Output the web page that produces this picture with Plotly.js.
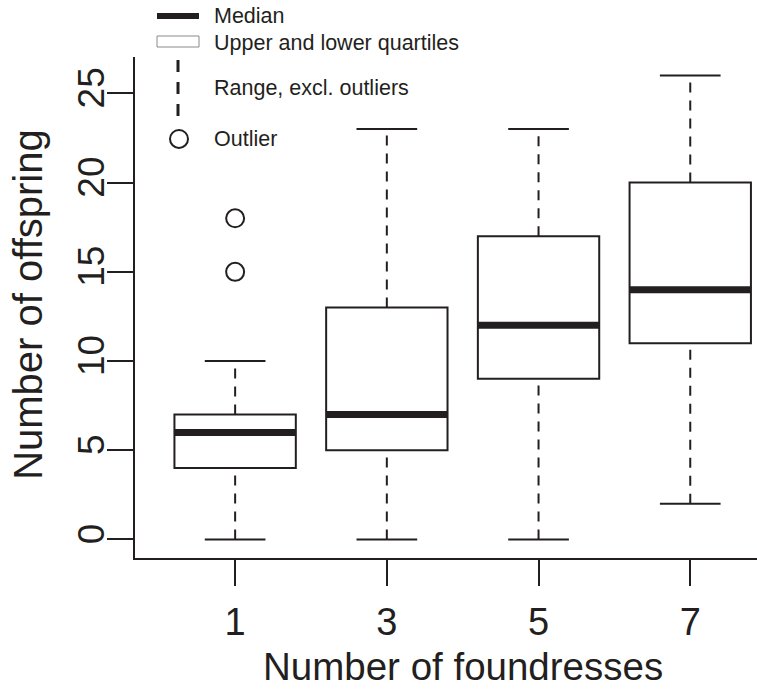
<!DOCTYPE html>
<html>
<head>
<meta charset="utf-8">
<script src="https://cdn.plot.ly/plotly-3.0.1.min.js"></script>
<style>html,body{margin:0;padding:0;background:#fff;overflow:hidden;}</style>
</head>
<body>
<div id="chart" style="width:757px;height:694px;"></div>
<script>
// ---- data ----
const foundresses = [1, 3, 5, 7];
const tickLabels = ['1', '3', '5', '7'];
const lowerWhisker = [0, 0, 0, 2];
const q1 = [4, 5, 9, 11];
const medians = [6, 7, 12, 14];
const q3 = [7, 13, 17, 20];
const upperWhisker = [10, 23, 23, 26];
const outlierX = [1, 1];
const outlierY = [15, 18];
const yTicks = [0, 5, 10, 15, 20, 25];
const legendLabels = ['Median', 'Upper and lower quartiles', 'Range, excl. outliers', 'Outlier'];

// ---- styling / geometry ----
const INK = '#231f20';
const FONT = 'Liberation Sans, Arial, Helvetica, sans-serif';
const W = 757, H = 694, L = 135, T = 57, B = 558.3;
const BOXW = 1.6, CAPW = 0.8;
const px = x => (x - L) / (W - L);
const py = y => (B - y) / (B - T);

const wx = [], wy = [], cx = [], cy = [], mx = [], my = [];
foundresses.forEach((f, i) => {
  wx.push(f, f, null, f, f, null);
  wy.push(q3[i], upperWhisker[i], null, lowerWhisker[i], q1[i], null);
  cx.push(f - CAPW / 2, f + CAPW / 2, null, f - CAPW / 2, f + CAPW / 2, null);
  cy.push(upperWhisker[i], upperWhisker[i], null, lowerWhisker[i], lowerWhisker[i], null);
  mx.push(f - BOXW / 2, f + BOXW / 2, null);
  my.push(medians[i], medians[i], null);
});

const traces = [
  {type: 'scatter', mode: 'lines', x: wx, y: wy, hoverinfo: 'skip',
   line: {color: INK, width: 2, dash: '10px,8px'}, showlegend: false},
  {type: 'scatter', mode: 'lines', x: cx, y: cy, hoverinfo: 'skip',
   line: {color: INK, width: 2}, showlegend: false},
  {type: 'box', x: foundresses, q1: q1, median: medians, q3: q3,
   lowerfence: q1, upperfence: q3, width: BOXW, whiskerwidth: 0,
   boxpoints: false, fillcolor: '#ffffff', line: {color: INK, width: 2},
   showlegend: false, hoverinfo: 'skip'},
  {type: 'scatter', mode: 'lines', x: mx, y: my, hoverinfo: 'skip',
   line: {color: INK, width: 7}, showlegend: false},
  {type: 'scatter', mode: 'markers', x: outlierX, y: outlierY, hoverinfo: 'skip',
   marker: {symbol: 'circle-open', size: 18, color: INK, line: {width: 2, color: INK}},
   showlegend: false}
];

const shapes = [
  {type: 'line', xref: 'paper', yref: 'paper', x0: px(157), x1: px(199), y0: py(16), y1: py(16),
   line: {color: INK, width: 6}},
  {type: 'rect', xref: 'paper', yref: 'paper', x0: px(157), x1: px(199), y0: py(47), y1: py(36),
   line: {color: '#8a8a8a', width: 1}, fillcolor: 'rgba(0,0,0,0)'},
  {type: 'line', xref: 'paper', yref: 'paper', x0: px(178), x1: px(178), y0: py(60), y1: py(122),
   line: {color: INK, width: 3, dash: '12px,10px'}},
  {type: 'circle', xref: 'paper', yref: 'paper', x0: px(170), x1: px(188), y0: py(130), y1: py(148),
   line: {color: INK, width: 2}}
];

const legendY = [16, 43, 88, 139];
const annotations = legendLabels.map((t, i) => ({
  text: t, xref: 'paper', yref: 'paper', x: px(212), y: py(legendY[i]),
  xanchor: 'left', yanchor: 'middle', showarrow: false,
  font: {family: FONT, size: 21.5, color: INK}
}));
annotations.push({
  text: 'Number of foundresses', xref: 'x', yref: 'paper', x: 4, y: py(667),
  xanchor: 'center', yanchor: 'middle', showarrow: false,
  font: {family: FONT, size: 38.5, color: INK}
});
annotations.push({
  text: 'Number of offspring', xref: 'paper', yref: 'paper', x: px(28), y: py(305),
  xanchor: 'center', yanchor: 'middle', textangle: -90, showarrow: false,
  font: {family: FONT, size: 40, color: INK}
});

const layout = {
  width: W, height: H,
  margin: {l: L, r: 0, t: T, b: H - B, pad: 0},
  paper_bgcolor: '#ffffff', plot_bgcolor: '#ffffff',
  showlegend: false,
  xaxis: {range: [-0.32, 7.88], tickvals: foundresses, ticktext: tickLabels,
          showline: true, linecolor: INK, linewidth: 2, mirror: false,
          ticks: 'outside', ticklen: 26, tickwidth: 2, tickcolor: INK,
          showgrid: false, zeroline: false, ticklabelstandoff: 3,
          tickfont: {family: FONT, size: 38, color: INK}},
  yaxis: {range: [-1.04, 27.04], tickvals: yTicks, ticktext: yTicks.map(String),
          tickangle: -90, showline: true, linecolor: INK, linewidth: 2,
          ticks: 'outside', ticklen: 26, tickwidth: 2, tickcolor: INK,
          showgrid: false, zeroline: false, ticklabelstandoff: -12,
          tickfont: {family: FONT, size: 37, color: INK}},
  shapes: shapes,
  annotations: annotations
};

Plotly.newPlot('chart', traces, layout, {staticPlot: true, displayModeBar: false});
</script>
</body>
</html>
